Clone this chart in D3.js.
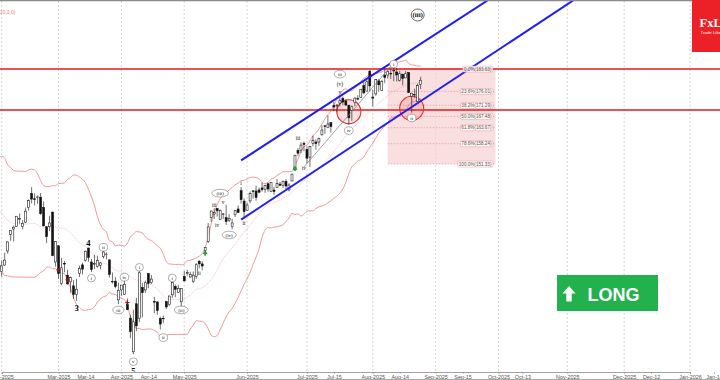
<!DOCTYPE html>
<html><head><meta charset="utf-8">
<script src="https://cdn.jsdelivr.net/npm/d3@7"></script>
<style>html,body{margin:0;padding:0;background:#fff;overflow:hidden}svg{display:block}</style>
</head><body><svg id="c" width="720" height="380"></svg>
<script>
// ---------------- DATA ----------------
// Daily OHLC from 2025-01-02 (January kept as history for the 20-day bands)
const opens = [136.0,140.0,148.6,153.0,142.6,137.5,129.99,136.05,133.65,138.64,136.69,139.16,144.66,145.05,148.37,124.80,121.81,126.5,123.1,123.78,
114.75,116.96,121.76,127.42,129.22,130.09,132.58,130.02,131.56,136.48,141.27,139.51,140.03,140.04,136.56,129.98,129.99,135.0,118.02,
123.51,110.65,117.58,113.52,111.25,109.9,106.99,114.12,117.03,118.61,122.74,118.0,117.27,116.55,116.91,119.88,120.55,118.73,111.35,111.49,105.13,
108.52,106.99,103.51,98.91,87.46,103.81,98.89,109.37,108.5,114.11,110.97,104.55,104.45,98.77,98.78,104.52,103.48,106.85,109.69,107.67,104.47,
113.08,114.18,112.91,111.48,113.05,118.25,117.35,121.97,124.98,133.2,134.3,136.22,132.39,134.29,133.06,132.23,130.0,134.15,136.03,142.25,138.72,
135.49,138.78,142.19,142.17,142.51,143.19,142.69,144.61,141.97,142.48,143.35,144.49,144.01,145.45,142.5,145.56,149.27,155.98,156.04,158.37,
156.29,153.66,158.37,158.8,158.79,161.22,164.32,163.72,165.37,171.19,171.06,172.02,173.64,172.75,171.34,169.53,172.19,173.61,174.02,177.96,176.11,182.9,
174.09,175.16,179.62,176.33,181.57,181.56,182.16,182.96,182.62,179.75,181.88,180.6,182.43,174.39,174.85,172.61,178.35];
const highs = [138.9,144.9,152.2,153.1,143.9,139.2,133.5,136.4,136.45,138.75,138.5,141.83,147.79,147.23,148.97,128.4,129.0,126.89,125.0,127.85,
118.57,121.2,125.0,128.77,130.37,133.0,134.48,132.24,136.5,139.25,143.44,141.36,140.67,141.46,138.59,130.2,133.73,135.01,125.09,
123.7,119.31,118.28,115.35,113.0,111.85,112.23,116.77,117.76,121.89,122.9,119.02,120.45,120.14,117.99,122.22,121.29,118.84,114.45,112.87,110.96,
110.2,111.98,105.63,100.13,101.75,105.85,115.1,110.86,111.65,114.29,113.62,106.16,104.47,99.43,99.81,104.8,106.59,111.92,110.37,110.2,108.92,
114.94,115.4,114.67,114.74,117.68,118.68,118.23,123.0,131.22,135.44,136.3,136.35,135.87,134.58,137.4,134.25,132.68,135.66,137.25,143.49,139.62,
138.12,142.0,142.39,144.0,143.27,145.0,144.29,144.99,145.0,143.58,146.18,145.22,145.65,146.2,144.78,147.96,154.45,156.72,158.71,158.99,
157.2,157.41,160.98,159.7,160.3,164.42,164.5,167.89,165.49,172.4,171.75,174.16,174.25,173.38,171.39,171.26,173.96,174.72,176.8,179.38,179.89,183.3,
176.54,180.26,180.26,179.9,183.88,183.3,183.85,184.47,183.98,183.03,181.9,182.94,182.5,175.5,176.9,178.7,180.99];
const lows = [134.6,139.7,147.8,140.0,137.6,134.2,129.5,130.05,131.3,133.49,135.46,137.09,143.67,143.72,141.88,116.7,116.25,120.05,118.1,119.19,
113.01,116.7,120.76,125.21,125.0,129.96,131.02,129.08,131.17,135.5,137.93,137.22,137.78,134.03,130.08,124.44,128.49,120.01,116.4,
112.28,110.11,114.51,110.22,107.56,105.46,104.77,112.88,113.79,118.15,118.1,114.54,115.66,116.11,115.5,119.19,118.91,112.7,110.66,109.07,103.65,
106.47,106.79,101.6,92.11,86.62,94.46,97.53,99.15,107.48,109.07,110.5,100.61,100.05,95.04,97.28,102.02,103.11,105.73,106.02,107.44,102.16,
111.3,113.37,112.66,110.82,112.28,115.85,115.21,120.28,124.47,131.68,132.66,133.46,132.39,132.62,130.59,131.55,129.16,133.31,134.79,137.91,132.92,
135.4,137.95,139.55,138.83,141.51,141.94,141.53,141.87,141.85,140.85,143.2,143.78,143.12,142.65,142.03,145.5,149.26,154.0,155.04,155.65,
151.49,150.28,157.34,156.17,157.46,161.06,161.6,163.47,162.02,169.2,168.9,170.83,171.26,171.0,164.58,165.97,170.96,172.96,173.81,175.02,176.04,175.93,
170.89,174.52,175.9,176.23,178.8,180.4,180.25,179.46,179.35,179.35,178.04,180.59,175.48,168.8,173.81,172.41,176.8];
const closes = [138.31,144.47,149.43,140.14,140.11,135.91,133.23,131.76,136.24,133.57,137.71,140.83,147.07,147.22,142.62,118.42,128.99,123.70,124.65,120.07,
116.66,118.65,124.83,128.68,129.84,133.57,132.80,131.14,135.29,138.85,139.40,139.23,140.11,134.43,130.28,126.63,131.28,120.15,124.92,
114.06,115.99,117.30,110.57,112.69,106.98,108.76,115.74,115.58,121.67,119.53,115.43,117.52,118.53,117.70,121.41,120.69,113.76,111.43,109.67,108.38,
110.15,110.42,101.80,94.31,97.64,96.30,114.33,107.57,110.93,110.71,112.20,104.49,101.49,96.91,98.89,102.71,106.43,111.01,108.73,109.02,108.92,
111.61,114.50,113.82,113.54,117.06,117.37,116.65,123.00,129.93,135.34,134.83,135.40,135.57,134.38,131.80,132.83,131.29,135.50,134.81,139.19,135.13,
137.38,141.22,141.92,139.99,141.72,142.63,143.96,142.83,145.00,141.97,144.69,144.12,145.48,143.85,144.17,147.90,154.31,155.02,157.75,157.99,
153.30,157.25,159.34,158.24,160.00,162.88,164.10,164.92,164.07,170.70,171.37,173.00,172.41,171.38,167.03,170.78,173.74,173.50,176.75,175.51,179.27,177.87,
173.72,180.00,178.26,179.42,180.77,182.70,182.06,183.16,181.59,182.02,180.45,182.01,175.64,175.40,174.98,177.99,179.81];

const firstDay = "2025-01-02";
const viewStart = "2025-02-03";
const viewEnd = "2026-01-02";
const holidays = ["2025-01-01","2025-01-09","2025-01-20","2025-02-17","2025-04-18","2025-05-26","2025-06-19","2025-07-04","2025-09-01","2025-11-27","2025-12-25","2026-01-01"];
const midTickDates = ["2025-03-14","2025-04-14","2025-07-15","2025-08-14","2025-09-15","2025-10-13","2025-12-12","2026-01-14"];
const bbPeriod = 20, bbMult = 2;

const fibHigh = 183.63, fibLow = 151.33;
const fibLevels = [0, 23.6, 38.2, 50, 61.8, 78.6, 100];
const fibFrom = "2025-08-08", fibTo = "2025-09-30";
const levelLines = [183.63, 169.7];

const channelUpper = [["2025-05-29", 152.56], ["2025-10-07", 212.0]];
const channelLower = [["2025-05-29", 132.40], ["2025-11-13", 211.0]];
const waveLine = [["2025-06-30", 150.3], ["2025-08-11", 184.5]];
const circleMarks = [["2025-07-22", 169.1], ["2025-08-20", 170.27]];

const signals = [
  ["2025-03-03", 115.3, "sell"], ["2025-03-06", 111.9, "sell"], ["2025-04-03", 104.2, "sell"],
  ["2025-05-12", 121.2, "buy"], ["2025-06-25", 150.0, "buy"]
];

// wave labels: date, price, text, kind (c = circled, p = plain, b = bold digit, big = large circled)
const waves = [
  ["2025-03-17", 124.5, "4", "b"], ["2025-03-11", 102.4, "3", "b"], ["2025-04-07", 80.9, "5", "b"],
  ["2025-03-18", 112.5, "i", "c"], ["2025-03-24", 123.0, "ii", "c"], ["2025-03-31", 101.7, "iii", "c"],
  ["2025-04-02", 112.8, "iv", "c"], ["2025-04-07", 84.1, "v", "c"],
  ["2025-04-09", 116.2, "i", "c"], ["2025-04-22", 92.3, "ii", "c"], ["2025-04-25", 112.6, "i", "c"],
  ["2025-04-30", 101.7, "(ii)", "c"], ["2025-05-08", 114.1, "ii", "p"], ["2025-05-15", 137.4, "iii", "p"],
  ["2025-05-19", 141.4, "(iii)", "c"], ["2025-05-20", 138.5, "v", "p"], ["2025-05-16", 130.4, "iv", "p"],
  ["2025-05-22", 127.2, "(iv)", "c"], ["2025-05-29", 144.8, "i", "p"], ["2025-05-30", 131.2, "ii", "p"],
  ["2025-06-26", 160.3, "iii", "p"], ["2025-06-30", 149.9, "iv", "p"],
  ["2025-07-17", 181.9, "iii", "c"], ["2025-07-17", 178.5, "(v)", "p"], ["2025-07-17", 175.8, "v", "p"],
  ["2025-07-22", 162.7, "iv", "c"], ["2025-08-12", 185.3, "i", "c"], ["2025-08-20", 167.0, "ii", "c"],
  ["2025-08-22", 202.0, "iii", "big"]
];

// ---------------- CHART ----------------
const svg = d3.select("#c");
const W = 720, H = 380, axisY = 372;
const iso = d3.timeFormat("%Y-%m-%d");
const days = [];
for (let d = d3.timeParse("%Y-%m-%d")(firstDay); d <= new Date(2026, 0, 31); d = d3.timeDay.offset(d, 1)) {
  const wd = d.getDay();
  if (wd === 0 || wd === 6) continue;
  if (holidays.includes(iso(d))) continue;
  days.push(d);
}
const base = days.findIndex(d => iso(d) === viewStart);
const idx = s => days.findIndex(d => iso(d) === s) - base;

const x = d3.scaleLinear().domain([0, idx(viewEnd)]).range([1.7, 690]);
const y = d3.scaleLinear().domain([80.6, 207.09]).range([axisY, 0]);

svg.append("rect").attr("width", W).attr("height", H).attr("fill", "#fff");
svg.append("defs").append("clipPath").attr("id", "clip")
  .append("rect").attr("x", 0).attr("y", 1).attr("width", W).attr("height", axisY - 1.5);

// month ticks
const monthIdx = [];
for (let i = base; i < days.length; i++) {
  if (days[i].getMonth() !== days[i - 1].getMonth()) monthIdx.push(i - base);
}
const monthSet = new Set(monthIdx);
const midIdx = midTickDates.map(idx);
const allTicks = monthIdx.concat(midIdx).sort((a, b) => a - b);

// gridlines
svg.append("g").selectAll("line").data(monthIdx).join("line")
  .attr("x1", d => x(d)).attr("x2", d => x(d)).attr("y1", 1).attr("y2", axisY)
  .attr("stroke", "#c4c4c4").attr("stroke-width", 0.7).attr("stroke-dasharray", "2,2");

const plot = svg.append("g").attr("clip-path", "url(#clip)");

// Fibonacci zone
const fibX0 = x(idx(fibFrom)), fibX1 = x(idx(fibTo));
const fibP = l => fibHigh - (fibHigh - fibLow) * l / 100;
plot.append("rect").attr("x", fibX0).attr("y", y(fibHigh)).attr("width", fibX1 - fibX0)
  .attr("height", y(fibLow) - y(fibHigh)).attr("fill", "#f7d4d4").attr("opacity", 0.75);
plot.append("g").selectAll("line").data(fibLevels).join("line")
  .attr("x1", fibX0).attr("x2", fibX1).attr("y1", d => y(fibP(d))).attr("y2", d => y(fibP(d)))
  .attr("stroke", "#e58a8a").attr("stroke-width", 0.6).attr("stroke-dasharray", "1.5,1.5");

// Bollinger bands
const bb = [];
for (let i = bbPeriod - 1; i < closes.length; i++) {
  const w = closes.slice(i - bbPeriod + 1, i + 1);
  const m = d3.mean(w);
  const sd = Math.sqrt(d3.mean(w, v => (v - m) * (v - m)));
  bb.push({ i: i - base, m, u: m + bbMult * sd, l: m - bbMult * sd });
}
const bline = k => d3.line().curve(d3.curveMonotoneX).x(d => x(d.i)).y(d => y(d[k]));
plot.append("path").datum(bb).attr("d", bline("u")).attr("fill", "none").attr("stroke", "#f28b8b").attr("stroke-width", 0.9);
plot.append("path").datum(bb).attr("d", bline("l")).attr("fill", "none").attr("stroke", "#f28b8b").attr("stroke-width", 0.9);
plot.append("path").datum(bb).attr("d", bline("m")).attr("fill", "none").attr("stroke", "#f5a3a3").attr("stroke-width", 0.6).attr("stroke-dasharray", "1.2,0.8");

// horizontal levels
plot.append("g").selectAll("line").data(levelLines).join("line")
  .attr("x1", 0).attr("x2", W).attr("y1", d => y(d)).attr("y2", d => y(d))
  .attr("stroke", "#e8161b").attr("stroke-width", 1.4);

// circles
plot.append("g").selectAll("circle").data(circleMarks).join("circle")
  .attr("cx", d => x(idx(d[0]))).attr("cy", d => y(d[1])).attr("r", 12)
  .attr("fill", "rgba(240,90,90,0.18)").attr("stroke", "#e62b2b").attr("stroke-width", 1.1);

// candles
const candles = closes.map((c, i) => ({ i: i - base, o: opens[i], h: highs[i], l: lows[i], c }));
const cg = plot.append("g");
cg.selectAll("line").data(candles).join("line")
  .attr("x1", d => x(d.i)).attr("x2", d => x(d.i)).attr("y1", d => y(d.h)).attr("y2", d => y(d.l))
  .attr("stroke", "#222").attr("stroke-width", 0.65);
cg.selectAll("rect").data(candles).join("rect")
  .attr("x", d => x(d.i) - 1).attr("width", 2)
  .attr("y", d => y(Math.max(d.o, d.c)))
  .attr("height", d => Math.max(0.6, Math.abs(y(d.o) - y(d.c))))
  .attr("fill", d => d.c >= d.o ? "#fff" : "#111")
  .attr("stroke", "#111").attr("stroke-width", 0.55);

// channel lines
const lineGen = d3.line().x(d => x(idx(d[0]))).y(d => y(d[1]));
plot.append("path").datum(channelUpper).attr("d", lineGen).attr("stroke", "#1f1ff0").attr("stroke-width", 2).attr("fill", "none");
plot.append("path").datum(channelLower).attr("d", lineGen).attr("stroke", "#1f1ff0").attr("stroke-width", 2).attr("fill", "none");
plot.append("path").datum(waveLine).attr("d", lineGen).attr("stroke", "#777").attr("stroke-width", 0.7).attr("fill", "none");

// signals
const sg = plot.append("g");
signals.forEach(s => {
  const cx = x(idx(s[0])), cy = y(s[1]);
  if (s[2] === "buy") {
    sg.append("path").attr("d", `M${cx - 2.5},${cy + 1.5}L${cx},${cy - 2.5}L${cx + 2.5},${cy + 1.5}Z`).attr("fill", "#21a33a");
    sg.append("rect").attr("x", cx - 0.8).attr("y", cy + 1).attr("width", 1.6).attr("height", 2).attr("fill", "#21a33a");
  } else {
    sg.append("path").attr("d", `M${cx - 2},${cy}H${cx + 2}M${cx},${cy - 2}V${cy + 2}`).attr("stroke", "#9b1010").attr("stroke-width", 1.2);
  }
});

// wave labels
const wg = plot.append("g").attr("font-family", "'Liberation Serif','DejaVu Serif',serif").attr("text-anchor", "middle");
waves.forEach(w => {
  const cx = x(idx(w[0])), cy = y(w[1]), k = w[3];
  if (k === "c" || k === "big") {
    const big = k === "big";
    const rx = big ? 6.5 : Math.max(4, w[2].length * 1.35 + 1.6);
    const ry = big ? 6 : 3.8;
    wg.append("ellipse").attr("cx", cx).attr("cy", cy).attr("rx", rx).attr("ry", ry)
      .attr("fill", "#fff").attr("stroke", big ? "#444" : "#777").attr("stroke-width", big ? 0.8 : 0.6);
    wg.append("text").attr("x", cx).attr("y", cy).attr("dy", "0.35em")
      .attr("font-size", big ? 7 : 5).attr("font-weight", big ? "bold" : "normal").attr("fill", "#111").text(big ? "(" + w[2] + ")" : w[2]);
  } else if (k === "b") {
    wg.append("text").attr("x", cx).attr("y", cy).attr("dy", "0.35em")
      .attr("font-size", 8.5).attr("font-weight", "bold").attr("fill", "#000").text(w[2]);
  } else {
    wg.append("text").attr("x", cx).attr("y", cy).attr("dy", "0.35em")
      .attr("font-size", 5.5).attr("fill", "#111").text(w[2]);
  }
});

// fib labels
const fl = svg.append("g").attr("font-family", "'Liberation Sans',Arial,sans-serif").attr("font-size", 4.6);
fibLevels.forEach(l => {
  const t = l.toFixed(1) + "%(" + fibP(l).toFixed(2) + ")";
  const tx = fl.append("text").attr("x", fibX1 - 4).attr("y", y(fibP(l))).attr("dy", "0.35em")
    .attr("text-anchor", "end").attr("fill", "#555").text(t);
  const bbx = tx.node().getBBox();
  fl.insert("rect", "text").attr("x", bbx.x - 1).attr("y", bbx.y - 0.5).attr("width", bbx.width + 2).attr("height", bbx.height + 1)
    .attr("rx", 1.2).attr("fill", "#fff").attr("fill-opacity", 0.8).attr("stroke", "#eb9a9a").attr("stroke-width", 0.5);
});

// x axis
const fmtMonth = d3.timeFormat("%b-%Y"), fmtMid = d3.timeFormat("%b-%d");
const ax = svg.append("g").attr("transform", `translate(0,${axisY})`)
  .call(d3.axisBottom(x).tickValues(allTicks).tickSize(2).tickPadding(1)
    .tickFormat(i => monthSet.has(i) ? fmtMonth(days[i + base]) : fmtMid(days[i + base])));
ax.select(".domain").attr("stroke", "#8a8a8a").attr("stroke-width", 0.8);
ax.selectAll(".tick line").attr("stroke", "#8a8a8a").attr("stroke-width", 0.6);
ax.selectAll("text").attr("font-family", "'Liberation Sans',Arial,sans-serif").attr("font-size", 5.4).attr("fill", "#555");

// frame
svg.append("line").attr("x1", 0).attr("x2", W).attr("y1", 0.6).attr("y2", 0.6).attr("stroke", "#8c8c8c").attr("stroke-width", 1.3);
svg.append("line").attr("x1", 0).attr("x2", W).attr("y1", 379.5).attr("y2", 379.5).attr("stroke", "#aaa").attr("stroke-width", 1);

// indicator label
svg.append("text").attr("x", 15.5).attr("y", 12.5).attr("dy", "0.35em").attr("text-anchor", "end")
  .attr("font-family", "'Liberation Sans',Arial,sans-serif").attr("font-size", 5).attr("fill", "#f07c7c").text("BB(20,2.0)");

// LONG badge
const lg = svg.append("g");
lg.append("rect").attr("x", 557).attr("y", 275).attr("width", 101).attr("height", 36).attr("fill", "#22b14c");
lg.append("path").attr("d", "M562.5,293.5L569,286L575.5,293.5H571.7V301.5H566.3V293.5Z").attr("fill", "#fff");
lg.append("text").attr("x", 587.5).attr("y", 301).attr("font-family", "'Liberation Sans',Arial,sans-serif")
  .attr("font-weight", "bold").attr("font-size", 18).attr("fill", "#fff").text("LONG");

// logo
const lo = svg.append("g");
lo.append("rect").attr("x", 692).attr("y", 0).attr("width", 40).attr("height", 52).attr("fill", "#ec2027");
lo.append("text").attr("x", 699.5).attr("y", 27).attr("font-family", "'Liberation Serif','DejaVu Serif',serif")
  .attr("font-weight", "bold").attr("font-size", 12.5).attr("fill", "#fff").text("FxLeaders");
lo.append("text").attr("x", 700.5).attr("y", 34).attr("font-family", "'Liberation Sans',Arial,sans-serif")
  .attr("font-size", 4.4).attr("fill", "#fff").text("Trade Like a Pro");
</script>
</body></html>
